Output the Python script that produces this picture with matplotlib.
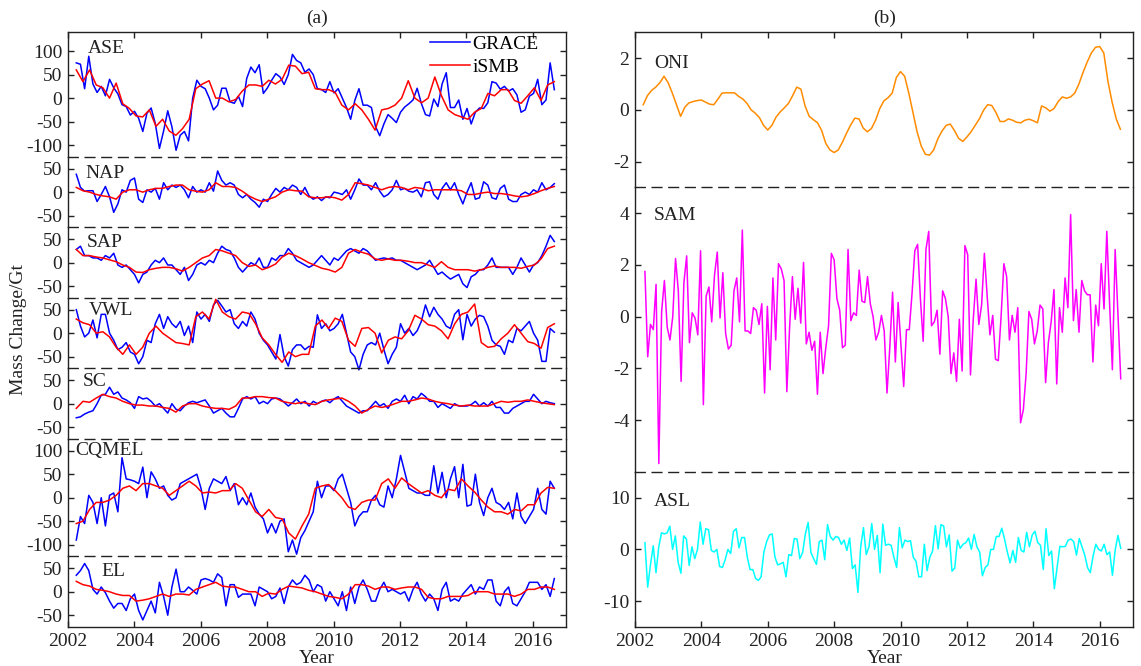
import numpy as np
import matplotlib
matplotlib.use('Agg')
import matplotlib.pyplot as plt
from matplotlib.gridspec import GridSpec

plt.rcParams['font.family'] = 'serif'
plt.rcParams['font.serif'] = ['Liberation Serif', 'DejaVu Serif']
plt.rcParams['axes.unicode_minus'] = False
plt.rcParams['font.size'] = 14

# --- panel (a): mass change per region [Gt], GRACE ~8/yr, iSMB 5/yr, 2002.25-2016.65
regions = ['ASE', 'NAP', 'SAP', 'VWL', 'SC', 'CQMEL', 'EL']

ase_grace = [75, 72, 20, 89, 30, 12,
             25, 5, 40, 22, 9, -14, -18, -36,
             -28, -43, -71, -32, -21, -54, -107, -70,
             -27, -61, -111, -79, -71, -91, 0, 38,
             25, 20, 0, -25, -15, 21, 21, -8,
             -11, 4, -18, 42, 66, 54, 71, 10,
             22, 38, 52, 45, 29, 50, 93, 80,
             75, 55, 62, 50, 20, 18, 12, 35,
             11, 20, 0, -20, -45, -5, 20, -15,
             -15, -20, -61, -80, -55, -35, -43, -52,
             -30, -19, -12, -4, 21, -11, -35, -38,
             -2, -18, 30, 54, -20, -20, -4, -45,
             -22, -55, -30, -21, -22, -10, 35, 32,
             19, 25, 15, 20, 7, -30, -25, 4,
             10, 40, -14, -4, 75, 18]
ase_smb = [60, 35, 60, 28,
           22, 0, 32, -12, -22,
           -38, -40, -25, -60, -45,
           -70, -79, -65, -45, 20,
           30, 37, 0, 0, -8,
           -3, 15, 28, 28, 25,
           38, 30, 40, 70, 68,
           52, 55, 20, 18, 18,
           12, -15, -25, -12, -25,
           -45, -68, -25, -22, -15,
           0, 37, 0, -10, 0,
           45, 5, -25, -35, -40,
           -45, -30, -22, 10, 5,
           18, 18, -5, -11, 5,
           22, -5, 28, 35]

nap_grace = [38, 10, 2, 3, 3, -20,
             -5, 12, -10, -43, -25, 5, 0, 25,
             30, -15, -22, 5, 0, 8, -15, 20,
             5, 15, 10, 15, 5, -12, 12, 0,
             5, 0, 20, 2, 45, 25, 15, 20,
             15, -5, -12, -5, -15, -22, -32, -15,
             -20, -5, 8, 0, 10, 5, 15, 10,
             -5, 10, -8, -15, -10, -18, -10, -12,
             0, -2, -5, 5, -15, 5, 28, 15,
             15, 5, 20, 2, -10, -5, 5, 25,
             5, 8, 2, 0, 5, -10, 20, 22,
             -5, -15, 8, 20, 5, 20, -5, -25,
             0, 20, -15, -12, 22, 15, -12, -15,
             8, 15, -15, -20, -20, -5, 0, -5,
             5, 0, 20, 5, 10, 18]
nap_smb = [10, 3, 0, -5,
           -8, -10, -15, 0, 5,
           5, 0, 5, 8, 8,
           12, 15, 15, 5, 2,
           0, 5, 20, 12, 12,
           10, 2, -8, -15, -20,
           -15, -10, 0, 5, 3,
           2, -10, -12, -12, -10,
           -12, -17, -5, 20, 18,
           15, 10, 5, 10, 12,
           10, 5, 10, 8, 3,
           5, 5, 5, 5, 3,
           -5, -5, -2, 0, -3,
           -3, -5, -8, -10, -8,
           -3, 3, 8, 12]

sap_grace = [28, 35, 15, 15, 10, 10,
             5, 15, 10, 20, -5, -10, -5, -15,
             -25, -43, -25, -20, -5, 5, 0, 10,
             -5, -5, -15, -25, -10, -38, -25, -5,
             0, -5, 5, 0, 20, 35, 28, 25,
             10, -10, -20, -10, 0, -5, 10, -10,
             -10, 10, 5, 15, 15, 30, 20, 5,
             0, -5, -10, -5, 5, 15, 5, -5,
             10, 5, 15, 25, 30, 25, 20, 30,
             25, 15, 5, 8, 10, 8, 10, 5,
             5, 0, -5, -10, -15, -10, -5, 5,
             -10, -25, -20, -28, -35, -30, -25, -45,
             -53, -30, -25, -15, -15, -5, 10, -10,
             -10, -10, -10, -25, -10, 10, -5, -20,
             -5, 0, 15, 35, 58, 45]
sap_smb = [28, 15, 15, 12,
           10, 6, 2, -5, -10,
           -20, -21, -15, -12, -10,
           -10, -13, -18, -10, 0,
           10, 15, 28, 25, 20,
           15, 0, -8, -5, -15,
           -10, -3, 12, 20, 15,
           8, 0, -6, -12, -15,
           -20, -10, 20, 28, 22,
           18, 8, 5, 8, 5,
           5, 3, 0, 0, -5,
           -10, 2, -10, -15, -15,
           -15, -18, -15, -10, -7,
           -10, -10, -10, -12, -8,
           -5, 8, 30, 35]

vwl_grace = [50, 15, -8, 0, 28, -10,
             40, 40, 0, -15, -35, -30, -20, -40,
             -45, -65, -50, -15, -20, 20, 40, 10,
             35, 20, 12, 25, -5, 15, -20, 45,
             30, 40, 25, 60, 70, 58, 45, 50,
             20, 10, 25, 15, 45, 30, 0, -15,
             -25, -40, -55, -3, -50, -70, -35, -25,
             -25, -35, -28, -30, 39, 10, 20, 5,
             10, 20, 40, 0, -40, -50, -78, -45,
             -25, -20, -25, 0, -35, -65, -45, -30,
             20, 0, 10, -5, 5, 25, 60, 35,
             55, 40, 30, 15, 10, 40, 50, -14,
             40, 15, 30, 38, 35, 15, -15, -25,
             -28, -45, -15, -20, 10, 5, 15, 25,
             0, -15, -60, -60, 10, 2]
vwl_smb = [30, 22, 18, 0,
           3, -8, -30, -45, -25,
           -45, -30, 0, 15, 0,
           -10, -20, -22, -25, 35,
           45, 30, 72, 45, 35,
           30, 45, 42, 20, -10,
           -25, -45, -62, -40, -50,
           -45, -45, 15, 28, 10,
           32, 25, -15, -28, 10,
           12, 0, -42, -15, -8,
           -12, 5, 38, 30, 18,
           15, 5, -12, 20, 40,
           45, 62, -20, -30, -28,
           -12, 0, 18, 0, -18,
           -22, -32, 12, 20]

sc_grace = [-30, -28, -22, -18, -15, 0,
            18, 20, 35, 20, 25, 12, 8, 2,
            -10, 15, 10, 12, 5, -5, 0, -10,
            -20, 0, -12, -15, -5, 2, 5, 2,
            5, 8, -5, -20, -15, -10, -20, -28,
            -28, -10, 10, 15, 10, 15, 0, 5,
            0, 10, 12, 10, 3, -5, 2, 10,
            0, 5, -5, 5, 0, 5, 8, 2,
            10, 15, 5, -5, -10, -15, -20, -15,
            -15, -5, 5, -5, 0, -10, 5, 10,
            5, 18, 0, 15, 10, 22, 15, 5,
            5, -8, 0, -5, -10, 0, -5, -5,
            -5, -2, 5, -5, 2, -5, 5, -8,
            -8, -20, -20, -10, -5, 0, 5, 5,
            20, 10, 0, 5, 2, 0]
sc_smb = [-10, 5, 3, 12,
          20, 15, 12, 5, 0,
          -3, -3, -5, -5, -8,
          -10, -18, -5, 0, 0,
          -5, -8, -10, -10, -12,
          -5, 12, 12, 15, 15,
          13, 12, 5, 2, 0,
          3, 0, -2, 5, 8,
          10, 12, 5, -5, -20,
          -12, -5, -8, -5, 0,
          5, 5, 8, 12, 10,
          5, 2, 0, -3, -5,
          -3, -5, -5, -5, 0,
          5, 3, 5, 5, 8,
          5, 2, 0, -2]

cqmel_grace = [-90, -40, -55, 5, -10, -55,
               0, -60, 5, 10, -30, 85, 40, 38,
               35, 30, 65, 0, 55, 40, 20, 25,
               5, -5, 0, 30, 35, 40, 45, 50,
               20, -25, 20, 40, 35, 30, 45, 15,
               30, -15, 0, -15, 10, -20, -35, -45,
               -75, -55, -75, -50, -45, -115, -90, -120,
               -85, -70, -50, -30, 35, 0, 25, 25,
               15, 40, 50, 20, -10, -60, -40, -30,
               -30, -5, 5, -15, -20, 25, 0, 40,
               90, 55, 20, 15, 10, 10, 5, 5,
               68, 10, 54, 0, 40, 66, 0, 71,
               -18, -15, 50, -10, -38, 0, 20, -10,
               -15, -25, -10, -45, 10, -40, -55, -40,
               -25, 20, -25, -35, 35, 20]
cqmel_smb = [-55, -50, -25, -10,
             -10, -5, 5, 20, 25,
             15, 30, 30, 25, 20,
             5, 15, 25, 35, 25,
             10, 12, 10, 15, 15,
             30, 20, -5, -30, -40,
             -25, -42, -45, -75, -88,
             -60, -35, 20, 25, 28,
             15, 0, -20, -25, -10,
             -5, -5, 30, 40, 20,
             42, 30, 20, 10, 15,
             5, 0, 18, 15, 40,
             25, 12, -5, -20, -30,
             -30, -35, -25, -28, -15,
             -15, 10, 22, 20]

el_grace = [35, 45, 60, 45, 5, -5,
            10, -2, -20, -35, -25, -25, -40, -15,
            -5, -40, -60, -40, -20, -45, 20, -10,
            -50, 10, 48, 0, 0, 10, 3, -5,
            25, 28, 25, 20, 38, 30, -30, 15,
            15, -12, -5, -5, -5, -30, 10, 5,
            0, -15, -10, 8, -25, 10, 25, 15,
            20, 35, 25, 0, 15, 10, -20, 0,
            -15, -30, 0, -40, 10, -25, 10, 25,
            5, -20, -20, 5, 20, 0, 5, 0,
            -5, 0, -20, 5, 20, -5, -20, -5,
            -15, -40, 5, 20, -20, -15, -20, -5,
            5, 15, -5, 10, 5, 25, 25, -20,
            -30, 0, 10, -25, -30, -15, 0, 20,
            20, 20, 5, 15, -10, 28]
el_smb = [22, 15, 12, 5,
          3, 0, -5, -8, -8,
          -20, -18, -15, -10, -5,
          -10, -5, -5, -7, 5,
          10, 15, 20, 12, 10,
          10, 5, 0, 0, -10,
          -3, -5, 5, 12, 10,
          8, 3, 0, -5, -10,
          -12, -15, -5, 15, 15,
          12, 5, 10, 10, 5,
          8, 10, 10, 5, -12,
          -15, -15, -10, -10, -10,
          -8, 0, 0, 0, -5,
          -5, -5, -10, -5, 5,
          5, 10, 10, 5]

grace_series = [ase_grace, nap_grace, sap_grace, vwl_grace, sc_grace, cqmel_grace, el_grace]
smb_series = [ase_smb, nap_smb, sap_smb, vwl_smb, sc_smb, cqmel_smb, el_smb]

# --- panel (b): climate indices
oni = [0.2, 0.55, 0.75, 0.88, 1.05, 1.3,
       1.05, 0.65, 0.2, -0.25, 0.1, 0.27, 0.32, 0.36,
       0.38, 0.3, 0.22, 0.2, 0.42, 0.65, 0.66, 0.66,
       0.66, 0.52, 0.42, 0.25, 0.0, -0.13, -0.3, -0.6,
       -0.78, -0.6, -0.28, -0.08, 0.08, 0.25, 0.55, 0.88,
       0.8, 0.15, -0.25, -0.38, -0.5, -0.8, -1.3, -1.55,
       -1.65, -1.55, -1.25, -0.9, -0.58, -0.32, -0.35, -0.7,
       -0.85, -0.72, -0.4, 0.05, 0.35, 0.47, 0.65, 1.25,
       1.48, 1.3, 0.65, -0.1, -0.85, -1.4, -1.72, -1.75,
       -1.55, -1.12, -0.82, -0.6, -0.55, -0.8, -1.1, -1.22,
       -1.05, -0.85, -0.6, -0.35, -0.02, 0.2, 0.17, -0.1,
       -0.45, -0.45, -0.35, -0.4, -0.48, -0.5, -0.4, -0.36,
       -0.42, -0.5, 0.15, 0.08, -0.05, 0.05, 0.32, 0.5,
       0.45, 0.5, 0.65, 1.0, 1.45, 1.85, 2.2, 2.42,
       2.45, 2.2, 1.1, 0.3, -0.35, -0.75]

sam = [1.75, -1.55, -0.3, -0.5, 1.25, -5.68, 0.2, 1.4, -0.4, -0.9, 0.0, 2.25,
       1.0, -2.5, 1.3, 2.35, -1.0, 0.15, -0.05, -0.7, 2.55, -3.4, 0.8, 1.15,
       -0.2, 1.6, 2.5, -0.05, 1.7, -0.65, -1.25, -1.1, 1.0, 1.5, -0.2, 3.35,
       -0.55, -0.55, -0.65, 0.35, 0.25, -0.3, 0.5, -2.95, 0.4, -2.05, 1.5, -0.9,
       2.05, 1.85, 1.4, -2.9, -0.4, 1.55, -0.1, 1.1, -0.25, 2.1, -1.05, -0.6,
       -1.3, -0.95, -3.0, -0.6, -2.2, -1.2, -0.35, 2.45, 2.2, 0.7, 0.25, -1.2,
       -1.1, 2.6, -0.15, 0.15, 0.05, 1.8, 0.6, 0.55, 1.55, 0.5, 0.0, -0.9,
       -0.6, 0.05, -0.55, -2.95, -1.2, 0.95, -1.75, 0.55, -1.1, -2.7, -0.5, -0.5,
       0.9, 2.55, 2.8, 0.7, -0.95, 2.6, 3.3, -0.35, -0.2, 0.25, -1.45, 1.0,
       0.7, 0.0, -2.2, -1.4, -2.5, -0.1, -2.1, 2.75, 2.4, -2.25, -0.1, 1.45,
       -0.3, 0.45, 2.45, 0.8, -0.7, 0.05, -1.65, -1.7, 0.0, 2.05, 1.55, -0.9,
       0.05, -0.6, 0.35, -4.1, -3.6, -2.2, 0.2, -0.1, -1.05, -0.55, 0.45, 0.3,
       -2.55, -1.0, -0.2, 1.05, -2.6, 0.35, -0.6, 1.5, 0.35, 3.95, -0.15, 1.05,
       -0.6, 1.4, 1.0, 0.85, 0.85, -1.75, 0.45, -0.35, 2.05, 0.3, 3.3, 0.5,
       -2.05, 2.6, 0.1, -2.4]

asl = [1.3, -7.3, -3.0, 0.7, -4.5, 0.5, 3.2, 3.0, 3.2, 4.5, 0.0, 2.6,
       -2.5, -4.6, 2.6, 2.0, -3.1, 0.5, -1.8, 0.0, 5.3, 1.0, 4.0, 3.8,
       -0.2, -0.5, 0.0, -3.3, -3.5, -2.0, 0.0, -0.8, 3.5, 4.0, 0.3, 2.3,
       2.3, -1.5, -3.9, -3.9, -5.6, -6.0, -5.3, -0.5, 1.5, 2.8, 3.0, -1.5,
       -3.0, -2.8, -2.5, -5.3, -1.0, -1.2, 2.1, 2.0, -1.8, -0.6, 3.0, 5.2,
       -0.6, -1.8, -2.9, 1.5, 1.8, -2.0, 4.8, 2.5, 1.8, 2.5, 2.3, 1.0,
       1.8, -0.2, 2.2, -3.7, -3.0, -8.3, 0.5, 4.2, -1.0, 0.5, 5.0, 0.0,
       2.7, -4.5, 4.9, 0.8, 1.0, 0.8, -1.5, -3.5, 4.2, 0.3, 1.8, 1.5,
       1.7, -1.5, -2.3, -5.3, -5.3, 1.0, -4.1, -1.5, -0.3, 4.6, 0.1, 4.8,
       4.5, 0.5, 2.8, -4.2, -3.6, 1.8, 0.2, 1.0, 1.3, 2.2, 0.0, 2.9,
       0.5, -0.5, -5.1, -3.5, -3.0, 0.0, 0.0, 2.5, 2.5, 4.1, 2.0, -0.5,
       -2.6, -0.2, -2.5, 2.3, -0.2, -0.5, 3.3, 0.5, 2.8, 3.5, 1.3, 0.8,
       -3.9, 4.0, -1.2, -0.3, -7.6, -3.5, 0.6, 0.5, 0.6, 1.8, 2.0, 1.5,
       -1.1, 2.1, 0.5, -1.1, -3.5, -4.5, -1.3, 1.0, 0.0, -0.3, 1.0, -1.0,
       -0.5, -5.0, -0.1, 2.7, 0.2]

# axis ranges of the stacked sub-panels
a_ylims = [(-125, 140), (-75, 75), (-75, 75), (-75, 75), (-75, 75), (-125, 125), (-75, 75)]
a_yticks = [[-100, -50, 0, 50, 100], [-50, 0, 50], [-50, 0, 50], [-50, 0, 50],
            [-50, 0, 50], [-100, -50, 0, 50, 100], [-50, 0, 50]]
a_lab_x = [0.04, 0.035, 0.038, 0.041, 0.03, 0.015, 0.068]
a_lab_dy = [8, 8, 7, 4, 4.5, 3, 7]

b_names = ['ONI', 'SAM', 'ASL']
b_series = [oni, sam, asl]
b_colors = ['#ff8c00', '#ff00ff', '#00ffff']
b_ylims = [(-3, 3), (-6, 5), (-15, 15)]
b_yticks = [[-2, 0, 2], [-4, -2, 0, 2, 4], [-10, 0, 10]]
b_lab_dy = [23, 20, 21]

INK = '#222222'
DASH = (0, (7, 5))
T0, T1 = 2002.25, 2016.65


def make_stack(gs, n, ylims, yticks):
    axes = []
    for i in range(n):
        ax = fig.add_subplot(gs[i], sharex=axes[0] if axes else None)
        ax.patch.set_visible(False)
        ax.set_ylim(*ylims[i])
        ax.set_yticks(yticks[i])
        for sp in ax.spines.values():
            sp.set_color(INK)
            sp.set_linewidth(1.0)
        if i > 0:
            ax.spines['top'].set_linestyle(DASH)
        if i < n - 1:
            ax.spines['bottom'].set_visible(False)
        ax.tick_params(direction='in', left=True, right=True, length=4,
                       width=1.0, colors=INK, labelsize=14, pad=4)
        ax.tick_params(axis='x', top=(i == 0), bottom=(i == n - 1),
                       labelbottom=(i == n - 1))
        axes.append(ax)
    axes[0].set_xlim(2002, 2017)
    axes[0].set_xticks(np.arange(2002, 2017, 2))
    return axes


fig = plt.figure(figsize=(11.41, 6.66), dpi=100)
gs_a = GridSpec(7, 1, figure=fig, left=0.0596, right=0.496, top=0.9515,
                bottom=0.0586, hspace=0, height_ratios=[265, 150, 150, 150, 150, 250, 150])
gs_b = GridSpec(3, 1, figure=fig, left=0.5565, right=0.993, top=0.9515,
                bottom=0.0586, hspace=0, height_ratios=[6, 11, 6])

axes_a = make_stack(gs_a, 7, a_ylims, a_yticks)
for ax, name, g, s, lx, dy in zip(axes_a, regions, grace_series, smb_series, a_lab_x, a_lab_dy):
    ax.plot(np.linspace(T0, T1, len(g)), g, color='#0000ff', lw=1.1,
            label='GRACE', clip_on=False)
    ax.plot(np.linspace(T0, T1, len(s)), s, color='#ff0000', lw=1.1,
            label='iSMB', clip_on=False)
    ax.annotate(name, xy=(lx, 1), xycoords='axes fraction', xytext=(0, -dy * 0.72),
                textcoords='offset points', va='top', ha='left', fontsize=14, color=INK)

axes_a[0].legend(loc='upper right', bbox_to_anchor=(0.945, 0.975), frameon=False,
                 handlelength=2.1, handletextpad=0.1, labelspacing=0.27,
                 borderpad=0, borderaxespad=0, fontsize=14)

axes_b = make_stack(gs_b, 3, b_ylims, b_yticks)
b_t = [(T0, 2016.62), (2002.3, 2016.63), (2002.3, 2016.63)]
for ax, name, vals, col, (t0, t1), dy in zip(axes_b, b_names, b_series, b_colors, b_t, b_lab_dy):
    ax.plot(np.linspace(t0, t1, len(vals)), vals, color=col, lw=1.1)
    ax.annotate(name, xy=(0.038, 1), xycoords='axes fraction', xytext=(0, -dy * 0.72),
                textcoords='offset points', va='top', ha='left', fontsize=14, color=INK)

# panel titles and shared labels
fig.text(0.278, 0.973, '(a)', ha='center', va='center', fontsize=14, color=INK)
fig.text(0.775, 0.973, '(b)', ha='center', va='center', fontsize=14, color=INK)
fig.text(0.278, 0.012, 'Year', ha='center', va='center', fontsize=14, color=INK)
fig.text(0.775, 0.012, 'Year', ha='center', va='center', fontsize=14, color=INK)
fig.text(0.016, 0.505, 'Mass Change/Gt', rotation=90, ha='center', va='center',
         fontsize=14, color=INK)

fig.savefig('out.png', dpi=100, facecolor='white')
